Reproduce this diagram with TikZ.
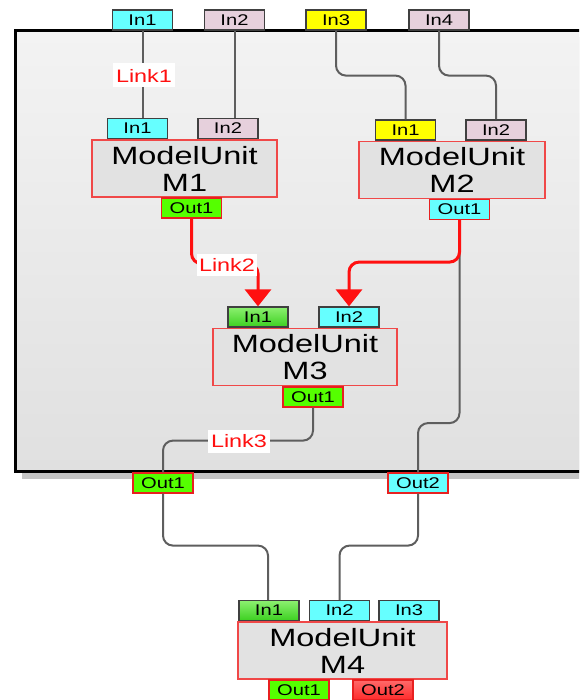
\documentclass[tikz,border=0pt]{standalone}
\usepackage{fontspec}
\setmainfont{Liberation Sans}
\newfontfamily\widefont[FakeStretch=1.3]{Liberation Sans}
\usetikzlibrary{arrows.meta}
\definecolor{cyanp}{HTML}{66FFFF}
\definecolor{pinkp}{HTML}{E6D0DC}
\definecolor{yellowp}{HTML}{FFFF00}
\definecolor{greenp}{HTML}{55FF00}
\definecolor{greentop}{HTML}{8CF070}
\definecolor{greenbot}{HTML}{3CD020}
\definecolor{redp}{HTML}{FF2A2A}
\definecolor{portedge}{HTML}{404040}
\definecolor{outedge}{HTML}{E82020}
\definecolor{modeledge}{HTML}{F04848}
\definecolor{modelfill}{HTML}{E2E2E2}
\definecolor{wiregray}{HTML}{5E5E5E}
\definecolor{linkred}{HTML}{FF1010}
\definecolor{contop}{HTML}{F3F3F3}
\definecolor{conbot}{HTML}{E0E0E0}
\definecolor{shadowgray}{HTML}{C4C4C4}
\tikzset{
  portbox/.style={minimum width=60pt, minimum height=20pt, inner sep=0pt, line width=1.2pt,
    font=\widefont\fontsize{15.5}{15.5}\selectfont},
  inport/.style={portbox, draw=portedge},
  outport/.style={portbox, draw=outedge},
  model/.style={draw=modeledge, fill=modelfill, minimum height=57pt, line width=1.2pt,
    align=center, inner sep=0pt, font=\widefont\fontsize{25}{27}\selectfont},
  linklabel/.style={fill=white, text=linkred, inner sep=0pt, minimum width=62pt, minimum height=24pt,
    font=\widefont\fontsize{18}{18}\selectfont},
  wire/.style={draw=wiregray, line width=2pt, rounded corners=10pt},
  redwire/.style={draw=linkred, line width=3pt, rounded corners=10pt,
    -{Triangle[width=26pt,length=17pt]}}
}
\begin{document}
\begin{tikzpicture}[x=1pt,y=-1pt]
\useasboundingbox (0,0) rectangle (579,700);
\clip (0,0) rectangle (579,700);
% container
\fill[shadowgray] (22,37) rectangle (600,479);
\shade[top color=contop, bottom color=conbot] (15,31) rectangle (600,471.5);
\draw[black, line width=3pt] (600,31) -- (15,31) -- (15,471.5) -- (600,471.5);

% model units
\node[model, minimum width=185pt] (m1) at (184.5,168.5) {ModelUnit\\M1};
\node[model, minimum width=186pt] (m2) at (452,170) {ModelUnit\\M2};
\node[model, minimum width=184pt] (m3) at (305,357) {ModelUnit\\M3};
\node[model, minimum width=209pt] (m4) at (342.5,650.5) {ModelUnit\\M4};

% container ports
\node[inport, fill=cyanp] (cin1) at (142.5,20) {In1};
\node[inport, fill=pinkp] (cin2) at (234.5,20) {In2};
\node[inport, fill=yellowp] (cin3) at (336,20) {In3};
\node[inport, fill=pinkp] (cin4) at (439,20) {In4};
\node[outport, fill=greenp] (cout1) at (163,483) {Out1};
\node[outport, fill=cyanp] (cout2) at (418,483) {Out2};

% unit ports
\node[inport, fill=cyanp] (m1in1) at (137.5,128.5) {In1};
\node[inport, fill=pinkp] (m1in2) at (228,128.5) {In2};
\node[outport, fill=greenp] (m1out) at (191.5,208) {Out1};
\node[inport, fill=yellowp] (m2in1) at (405.5,130) {In1};
\node[inport, fill=pinkp] (m2in2) at (496,130) {In2};
\node[outport, fill=cyanp] (m2out) at (459.5,209.5) {Out1};
\node[inport, top color=greentop, bottom color=greenbot] (m3in1) at (258,317) {In1};
\node[inport, fill=cyanp] (m3in2) at (349,317) {In2};
\node[outport, fill=greenp] (m3out) at (313,397) {Out1};
\node[inport, top color=greentop, bottom color=greenbot] (m4in1) at (269,610.5) {In1};
\node[inport, fill=cyanp] (m4in2) at (339.5,610.5) {In2};
\node[inport, fill=cyanp] (m4in3) at (409,610.5) {In3};
\node[outport, fill=greenp] (m4out1) at (299,690) {Out1};
\node[outport, top color=redp!70!white, bottom color=redp] (m4out2) at (383,690) {Out2};

% wires
\draw[wire] (cin1.south) -- (cin1.south |- m1in1.north);
\draw[wire] (cin2.south) -- (cin2.south |- m1in2.north);
\draw[wire] (cin3.south) -- ++(0,45) -| (m2in1.north);
\draw[wire] (cin4.south) -- ++(0,45) -| (m2in2.north);
\draw[wire] (m2out.south) -- ++(0,203) -| (cout2.north);
\draw[wire] (m3out.south) -- ++(0,33) -| (cout1.north);
\draw[wire] (cout1.south) -- ++(0,52) -| ([xshift=-1pt]m4in1.north);
\draw[wire] (cout2.south) -- ++(0,52) -| (m4in2.north);
\draw[redwire] (m1out.south) -- ++(0,45) -| (m3in1.north);
\draw[redwire] (m2out.south) -- ++(0,42) -| (m3in2.north);

% link labels
\node[linklabel] (link1) at (144,75.5) {Link1};
\node[linklabel, minimum width=60pt, minimum height=22pt] (link2) at (227,265) {Link2};
\node[linklabel, minimum height=23pt] (link3) at (239,441.5) {Link3};
\end{tikzpicture}
\end{document}
